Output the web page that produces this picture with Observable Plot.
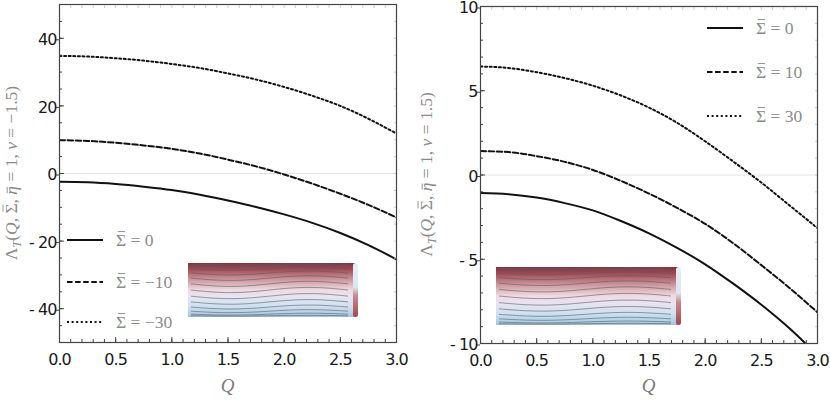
<!DOCTYPE html>
<html><head><meta charset="utf-8">
<script src="https://cdn.jsdelivr.net/npm/d3@7"></script>
<script src="https://cdn.jsdelivr.net/npm/@observablehq/plot@0.6"></script>
<style>
body{margin:0;background:#fff;}
#wrap{display:flex;width:830px;height:402px;overflow:hidden;}
#wrap > div{width:415px;height:402px;}
</style></head><body><div id="wrap"><div id="p1"></div><div id="p2"></div></div>
<script>
// ---- data ----
const Q = [0, 0.25, 0.5, 0.75, 1, 1.25, 1.5, 1.75, 2, 2.25, 2.5, 2.75, 3];
// left panel: nu = -1.5
const leftSigma0   = [-2.45, -2.6, -3.1, -3.9, -4.9, -6.3, -8.0, -9.9, -12.1, -14.6, -17.6, -21.2, -25.4];
const leftSigmaM10 = [9.85, 9.65, 9.1, 8.3, 7.3, 5.9, 4.1, 2.1, -0.3, -3.0, -6.0, -9.3, -13.0];
const leftSigmaM30 = [34.8, 34.6, 34.1, 33.4, 32.4, 31.2, 29.6, 27.8, 25.6, 23.0, 20.0, 16.2, 11.8];
// right panel: nu = 1.5
const rightSigma0  = [-1.07, -1.14, -1.34, -1.67, -2.1, -2.73, -3.46, -4.32, -5.3, -6.45, -7.7, -9.1, -10.7];
const rightSigma10 = [1.42, 1.36, 1.12, 0.78, 0.3, -0.35, -1.1, -1.95, -2.9, -4.05, -5.35, -6.7, -8.15];
const rightSigma30 = [6.44, 6.35, 6.1, 5.75, 5.3, 4.72, 4.0, 3.1, 2.0, 0.8, -0.45, -1.8, -3.15];

const leftLegend  = ["0", "\u221210", "\u221230"];
const rightLegend = ["0", "10", "30"];
const leftYLabelNu = "\u22121.5";
const rightYLabelNu = "1.5";
const xTicks = [0, 0.5, 1, 1.5, 2, 2.5, 3];
const leftYTicks = [-40, -20, 0, 20, 40];
const rightYTicks = [-10, -5, 0, 5, 10];

const dashes = [null, "5.5,2.6", "2,2.6"];

function toRows(vals){ return Q.map((q,i)=>({Q:q, v:vals[i]})); }
const fmtY = d => d < 0 ? "- " + Math.abs(d) : String(d);
const fmtX = d3.format(".1f");

function addBar(parent, textEl, idx, fs, h){
  const ext = textEl.node().getExtentOfChar(idx);
  const bx = ext.x, bw = ext.width;
  const by = +textEl.attr("y") || 0;
  parent.append("line").attr("x1", bx + bw*0.18).attr("x2", bx + bw*0.88)
    .attr("y1", by - fs*h).attr("y2", by - fs*h)
    .attr("stroke", "#8a8a8a").attr("stroke-width", 0.9);
}

function panel(cfg, host){
  const minorX = d3.range(0, 3.0001, 0.1).map(d=>+d.toFixed(2));
  const minorY = d3.range(cfg.yDomain[0], cfg.yDomain[1]+1e-9, cfg.minorStep);
  const series = cfg.series;
  const tickFont = {fontSize: 16};
  const plot = Plot.plot({
    width: 415, height: 402,
    marginLeft: cfg.ml, marginRight: cfg.mr, marginTop: cfg.mt, marginBottom: cfg.mb,
    x: {domain: [0, 3], label: null},
    y: {domain: cfg.yDomain, label: null},
    style: {fontFamily: "'DejaVu Sans', sans-serif", fontSize: "16px", color: "#1a1a1a", background: "white", letterSpacing: "-0.9px", overflow: "visible"},
    marks: [
      Plot.ruleY([0], {stroke: "#e4e4e4", strokeWidth: 1}),
      ...series.map((s,i)=>Plot.line(toRows(s), {x:"Q", y:"v", stroke:"#111", strokeWidth: 2, strokeDasharray: dashes[i], curve:"monotone-x", clip: true})),
      Plot.axisX(minorX, {anchor:"top", tickSize:-3, stroke:"#d0d0d0", tickFormat: ()=>"", label:null}),
      Plot.axisY(minorY, {anchor:"right", tickSize:-3, stroke:"#d0d0d0", tickFormat: ()=>"", label:null}),
      Plot.axisX(minorX, {anchor:"bottom", tickSize:-3, stroke:"#444", tickFormat: ()=>"", label:null}),
      Plot.axisY(minorY, {anchor:"left", tickSize:-3, stroke:"#444", tickFormat: ()=>"", label:null}),
      Plot.axisX(xTicks, {anchor:"bottom", tickSize:-5, stroke:"#444", tickFormat: ()=>"", label:null}),
      Plot.axisY(cfg.yTicks, {anchor:"left", tickSize:-5, stroke:"#444", tickFormat: ()=>"", label:null}),
      Plot.axisX(xTicks, {anchor:"bottom", tickSize:0, tickPadding: 11, tickFormat: fmtX, label:null, ...tickFont}),
      Plot.axisY(cfg.yTicks, {anchor:"left", tickSize:3, tickPadding: 0, dy: 1.5, stroke:"#444", tickFormat: fmtY, label:null, ...tickFont}),
      Plot.frame({stroke:"#444", strokeWidth: 1.2})
    ]
  });
  host.append(plot);
  const svg = d3.select(plot);
  const xs = plot.scale("x");
  // y label (rotated group)
  const yg = svg.append("g").attr("transform", `translate(17,${(cfg.mt + 402 - cfg.mb)/2}) rotate(-90)`);
  const yfs = 17.5;
  const yl = yg.append("text").attr("x",0).attr("y",0)
    .attr("text-anchor","middle")
    .attr("font-family","'Liberation Serif', serif")
    .attr("font-size", yfs).attr("fill","#8a8a8a").style("letter-spacing","0");
  yl.append("tspan").text("\u039B");
  yl.append("tspan").attr("font-style","italic").attr("font-size",12).attr("dy",4).text("T");
  yl.append("tspan").attr("dy",-4).text("(");
  yl.append("tspan").attr("font-style","italic").text("Q");
  yl.append("tspan").text(", \u03A3, ");
  yl.append("tspan").attr("font-style","italic").text("\u03B7");
  yl.append("tspan").text(" = 1, ");
  yl.append("tspan").attr("font-style","italic").text("\u03BD");
  yl.append("tspan").text(" = " + cfg.nu + ")");
  addBar(yg, yl, 6, yfs, 0.8);
  addBar(yg, yl, 9, yfs, 0.56);
  // x label
  svg.append("text").attr("x", (xs.apply(0)+xs.apply(3))/2).attr("y", 392)
    .attr("text-anchor","middle").attr("font-family","'Liberation Serif', serif")
    .attr("font-style","italic").attr("font-size",19).attr("fill","#7a7a7a").style("letter-spacing","0").text("Q");
  // legend
  const lg = svg.append("g");
  const lfs = 17.5;
  cfg.legend.forEach((t,i)=>{
    const y = cfg.legY[i];
    lg.append("line").attr("x1",cfg.legX).attr("x2",cfg.legX+36).attr("y1",y).attr("y2",y)
      .attr("stroke","#111").attr("stroke-width",2.2).attr("stroke-dasharray", dashes[i]);
    const tx = lg.append("text").attr("x",cfg.legX+49).attr("y",y+5.5).attr("text-anchor","start")
      .attr("font-family","'Liberation Serif', serif").attr("font-size",lfs)
      .attr("fill","#8a8a8a").style("letter-spacing","0").text("\u03A3 = " + t);
    addBar(lg, tx, 0, lfs, 0.8);
  });
  drawCylinder(svg, cfg.inset, cfg.id);
  return plot;
}

function drawCylinder(svg, r, id){
  const [x, y, w, h] = r;
  const defs = svg.append("defs");
  const g1 = defs.append("linearGradient").attr("id","cg"+id).attr("x1",0).attr("x2",0).attr("y1",0).attr("y2",1);
  [[0,"#86303b"],[0.12,"#a24c56"],[0.3,"#cc949b"],[0.5,"#eedbe1"],[0.62,"#e8e4f0"],[0.8,"#cfe1f0"],[0.94,"#b0d0e7"],[1,"#9cc1dc"]]
    .forEach(([o,c])=>g1.append("stop").attr("offset",o).attr("stop-color",c));
  const g2 = defs.append("linearGradient").attr("id","cc"+id).attr("x1",0).attr("x2",0).attr("y1",0).attr("y2",1);
  [[0,"#e4eef7"],[0.45,"#d9e6f2"],[0.6,"#c88c92"],[1,"#a8424b"]]
    .forEach(([o,c])=>g2.append("stop").attr("offset",o).attr("stop-color",c));
  const g = svg.append("g");
  g.append("rect").attr("x",x).attr("y",y).attr("width",w-3).attr("height",h).attr("fill",`url(#cg${id})`);
  g.append("rect").attr("x",x+w-5).attr("y",y).attr("width",5).attr("height",h).attr("rx",2.5).attr("fill",`url(#cc${id})`);
  const n = 13, cy = y + h/2, R = h/2 - 1, A = 2.6;
  for (let i = 0; i < n; i++){
    const th = Math.PI*(i+0.6)/(n+0.2);
    const base = cy - R*Math.cos(th);
    const amp = A*Math.sin(th);
    const pts = d3.range(0, 1.0001, 0.02).map(t => [x + 3 + t*(w-13), base + amp*Math.cos(2*Math.PI*(t-0.25))]);
    g.append("path").attr("d", d3.line()(pts)).attr("fill","none").attr("stroke","#5d5d66").attr("stroke-opacity",0.75).attr("stroke-width",0.8);
  }
}

panel({
  id: 1, yDomain: [-50, 50], yTicks: leftYTicks, minorStep: 5,
  ml: 59, mr: 19, mt: 4, mb: 60,
  series: [leftSigma0, leftSigmaM10, leftSigmaM30],
  legend: leftLegend, legX: 67, legY: [240, 282, 322],
  nu: leftYLabelNu, inset: [188, 263, 170, 54]
}, document.getElementById("p1"));
panel({
  id: 2, yDomain: [-10, 10], yTicks: rightYTicks, minorStep: 1,
  ml: 65, mr: 13, mt: 6, mb: 59,
  series: [rightSigma0, rightSigma10, rightSigma30],
  legend: rightLegend, legX: 292, legY: [28, 72, 116],
  nu: rightYLabelNu, inset: [81, 267, 185, 58]
}, document.getElementById("p2"));
</script></body></html>
